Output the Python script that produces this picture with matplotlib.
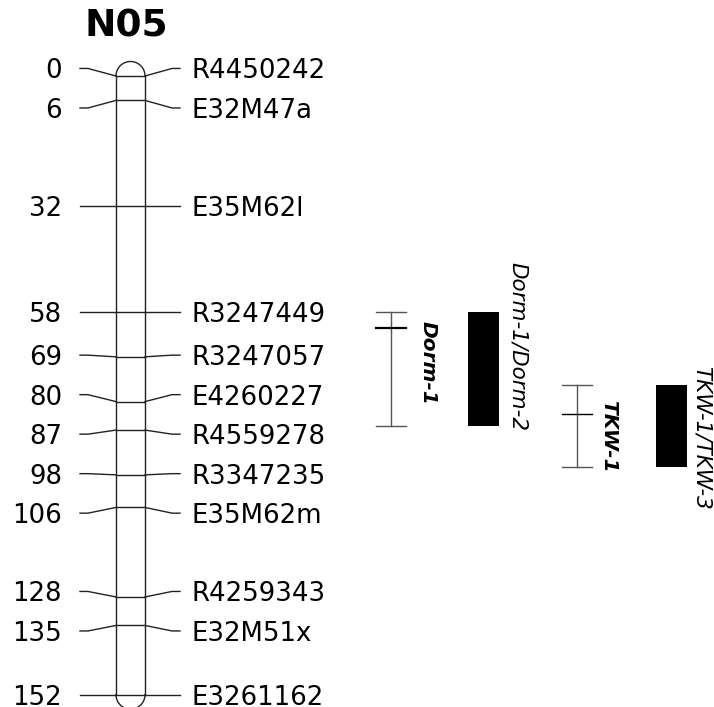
#!/usr/bin/env python3

# Linkage group N05 with marker names, cM positions and QTL intervals.

import matplotlib
matplotlib.use("Agg")
import matplotlib.pyplot as plt
import numpy as np

chrom_name = "N05"
marker_pos = [0, 6, 32, 58, 69, 80, 87, 98, 106, 128, 135, 152]
marker_names = ["R4450242", "E32M47a", "E35M62l", "R3247449", "R3247057",
                "E4260227", "R4559278", "R3347235", "E35M62m", "R4259343",
                "E32M51x", "E3261162"]

# QTL support intervals (start, peak, end in cM)
qtl_names = ["Dorm-1", "TKW-1"]
qtl_start = [58, 76]
qtl_peak = [62, 83]
qtl_end = [86, 96]

# Black bars for meta/combined QTL
bar_names = ["Dorm-1/Dorm-2", "TKW-1/TKW-3"]
bar_start = [58, 76]
bar_end = [86, 96]

# pixel layout: y pixel = Y0 + SCALE * cM
Y0 = 76.0
SCALE = 4.07
W, H = 714, 707
LABEL_GAP = 39.5 / SCALE
TEXT_SHIFT = 3.0 / SCALE  # matplotlib centres on the full glyph box


def spread_labels(pos, gap):
    """Pushes label positions apart so they are at least gap apart,
    keeping each cluster centred on the mean of its markers."""
    clusters = [[p] for p in pos]
    merged = True
    while merged:
        merged = False
        out = [clusters[0]]
        for c in clusters[1:]:
            prev = out[-1]
            prevEnd = np.mean(prev) + (len(prev) - 1) / 2 * gap
            curStart = np.mean(c) - (len(c) - 1) / 2 * gap
            if curStart - prevEnd < gap:
                out[-1] = prev + c
                merged = True
            else:
                out.append(c)
        clusters = out
    result = []
    for c in clusters:
        m = np.mean(c)
        for i in range(len(c)):
            result.append(m + (i - (len(c) - 1) / 2) * gap)
    return result


fig = plt.figure(figsize=(W / 100, H / 100), dpi=100)
ax = fig.add_axes([0, 0, 1, 1])
ax.set_xlim(0, W)
ax.set_ylim((H - Y0) / SCALE, -Y0 / SCALE)
ax.axis("off")

lineKw = dict(color="#222222", lw=1.0)

# chromosome body with rounded ends
cx, r = 130.5, 14.5
top, bottom = marker_pos[0], marker_pos[-1]
t = np.linspace(0, np.pi, 60)
ax.plot(cx + r * np.cos(t), top - r / SCALE * np.sin(t), **lineKw)
ax.plot(cx + r * np.cos(t), bottom + r / SCALE * np.sin(t), **lineKw)
ax.plot([cx - r, cx - r], [top, bottom], **lineKw)
ax.plot([cx + r, cx + r], [top, bottom], **lineKw)

# markers
labelPos = spread_labels(marker_pos, LABEL_GAP)
for p, lp, name in zip(marker_pos, labelPos, marker_names):
    ax.plot([cx - r, cx + r], [p, p], **lineKw)
    ax.plot([80, 88, cx - r], [lp, lp, p], **lineKw)
    ax.plot([cx + r, 172, 180], [p, lp, lp], **lineKw)
    ax.text(62, lp + TEXT_SHIFT, str(p), ha="right", va="center",
            fontsize=18.7)
    ax.text(192, lp + TEXT_SHIFT, name, ha="left", va="center",
            fontsize=18.7)

ax.text(126, (27 - Y0) / SCALE, chrom_name, ha="center", va="center",
        fontsize=27, fontweight="bold")

# QTL intervals
qtlX = [391, 577]
qtlLabelX = [428, 609]
qtlLabelShift = [-1.5, 2.5]
for i in range(len(qtl_names)):
    x = qtlX[i]
    ax.plot([x, x], [qtl_start[i], qtl_end[i]], color="#555555", lw=1.0)
    for yy in (qtl_start[i], qtl_end[i]):
        ax.plot([x - 15, x + 15], [yy, yy], color="#555555", lw=1.0)
    ax.plot([x - 15, x + 15], [qtl_peak[i], qtl_peak[i]], color="black",
            lw=1.6 if i == 0 else 1.0)
    mid = (qtl_start[i] + qtl_end[i]) / 2 + qtlLabelShift[i]
    ax.text(qtlLabelX[i], mid, qtl_names[i], rotation=-90, ha="center",
            va="center", fontsize=14.5, fontweight="bold",
            fontstyle="italic")

barX = [468, 656]
barW = 31
barLabelX = [518, 702]
barLabelShift = [-5.5, 3.0]
for i in range(len(bar_names)):
    ax.bar(barX[i] + barW / 2, bar_end[i] - bar_start[i], width=barW,
           bottom=bar_start[i], color="black")
    mid = (bar_start[i] + bar_end[i]) / 2 + barLabelShift[i]
    ax.text(barLabelX[i], mid, bar_names[i], rotation=-90, ha="center",
            va="center", fontsize=15.5, fontstyle="italic")

fig.savefig("out.png", dpi=100)
